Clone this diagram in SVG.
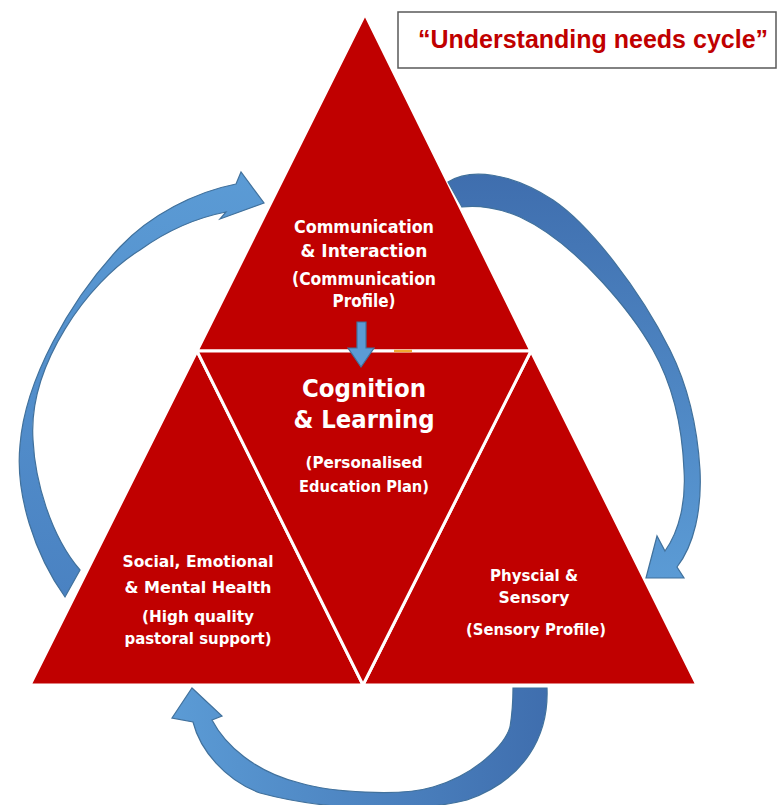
<svg xmlns="http://www.w3.org/2000/svg" width="780" height="805" viewBox="0 0 780 805">
<style>
.tri{fill:#C00000;stroke:#FFFFFF;stroke-width:3;stroke-linejoin:miter}
.lbl{font-family:"DejaVu Sans","Liberation Sans",sans-serif;font-weight:bold;fill:#FFFFFF;text-anchor:middle}
.arrow{stroke:#41719C;stroke-width:1.2;stroke-linejoin:miter}
.title{font-family:"Liberation Sans",Arial,sans-serif;font-weight:bold;fill:#C00000;text-anchor:middle}
</style>
<defs>
<linearGradient id="gL" x1="0" y1="0" x2="0" y2="1">
<stop offset="0" stop-color="#5B9BD5"/><stop offset="1" stop-color="#4A82C2"/>
</linearGradient>
<linearGradient id="gR" x1="0" y1="0" x2="0" y2="1">
<stop offset="0" stop-color="#3F6EAE"/><stop offset="1" stop-color="#5B9BD5"/>
</linearGradient>
<linearGradient id="gB" x1="0" y1="0" x2="1" y2="0">
<stop offset="0" stop-color="#5B9BD5"/><stop offset="1" stop-color="#3F6EAE"/>
</linearGradient>
</defs>
<rect width="780" height="805" fill="#FFFFFF"/>

<g id="title">
<rect x="398" y="12" width="378" height="56" fill="#FFFFFF" stroke="#595959" stroke-width="1.5"/>
<text class="title" x="593" y="48" font-size="25">“Understanding needs cycle”</text>
</g>

<g id="communication">
<polygon class="tri" points="365,14 197,351 531,351"/>
<text class="lbl" font-size="17" x="364" y="233" textLength="140" lengthAdjust="spacingAndGlyphs">Communication</text>
<text class="lbl" font-size="17" x="364" y="257" textLength="127" lengthAdjust="spacingAndGlyphs">&amp; Interaction</text>
<text class="lbl" font-size="17" x="364" y="285" textLength="144" lengthAdjust="spacingAndGlyphs">(Communication</text>
<text class="lbl" font-size="17" x="364" y="307" textLength="63" lengthAdjust="spacingAndGlyphs">Profile)</text>
</g>

<g id="social">
<polygon class="tri" points="197,351 30,685 363,685"/>
<text class="lbl" font-size="16" x="198" y="567" textLength="151" lengthAdjust="spacingAndGlyphs">Social, Emotional</text>
<text class="lbl" font-size="16" x="198" y="593" textLength="147" lengthAdjust="spacingAndGlyphs">&amp; Mental Health</text>
<text class="lbl" font-size="16" x="198" y="622" textLength="112" lengthAdjust="spacingAndGlyphs">(High quality</text>
<text class="lbl" font-size="16" x="198" y="644" textLength="147" lengthAdjust="spacingAndGlyphs">pastoral support)</text>
</g>

<g id="physical">
<polygon class="tri" points="531,351 363,685 697,685"/>
<text class="lbl" font-size="16" x="534" y="581" textLength="88" lengthAdjust="spacingAndGlyphs">Physcial &amp;</text>
<text class="lbl" font-size="16" x="534" y="603" textLength="71" lengthAdjust="spacingAndGlyphs">Sensory</text>
<text class="lbl" font-size="16" x="536" y="635" textLength="140" lengthAdjust="spacingAndGlyphs">(Sensory Profile)</text>
</g>

<g id="cognition">
<polygon class="tri" points="197,351 531,351 363,685"/>
<line x1="394" y1="351" x2="412" y2="351" stroke="#F0A830" stroke-width="2.5"/>
<text class="lbl" font-size="25" x="364" y="397" textLength="124" lengthAdjust="spacingAndGlyphs">Cognition</text>
<text class="lbl" font-size="25" x="364" y="428" textLength="141" lengthAdjust="spacingAndGlyphs">&amp; Learning</text>
<text class="lbl" font-size="15" x="364" y="468" textLength="117" lengthAdjust="spacingAndGlyphs">(Personalised</text>
<text class="lbl" font-size="15" x="364" y="492" textLength="130" lengthAdjust="spacingAndGlyphs">Education Plan)</text>
</g>

<g id="connectors">
<path class="arrow" fill="url(#gL)" d="M65,597 C35,555 15,495 20,445 C25,380 70,300 120,247 C150,215 195,192 236,184 L241,172 L264,203 L220,219 L226,212 C195,218 165,232 140,250 C88,282 28,365 33,440 C35,480 50,535 80,570 Z"/>
<path class="arrow" fill="url(#gR)" d="M448,182 C470,168 510,172 553,200 C590,225 640,290 670,350 C685,380 697,420 700,470 C702,510 694,545 677,567 L684,578 L646,578 L657,536 L665,551 C680,530 686,500 684,470 C682,420 670,380 653,350 C635,318 580,245 520,217 C500,208 478,205 462,207 Z"/>
<path class="arrow" fill="url(#gB)" d="M513,688 L547,688 C549,735 525,780 467,800 C420,812 330,812 260,793 C225,780 200,750 193,722 L172,718 L192,688 L222,716 L212,720 C225,745 255,772 300,783 C330,792 400,797 433,787 C475,775 505,745 510,727 C512,715 513,700 513,688 Z"/>
<path class="arrow" fill="#5B9BD5" d="M357,322 L366,322 L366,348 L374,348 L361,367 L348,348 L357,348 Z"/>
</g>
</svg>
